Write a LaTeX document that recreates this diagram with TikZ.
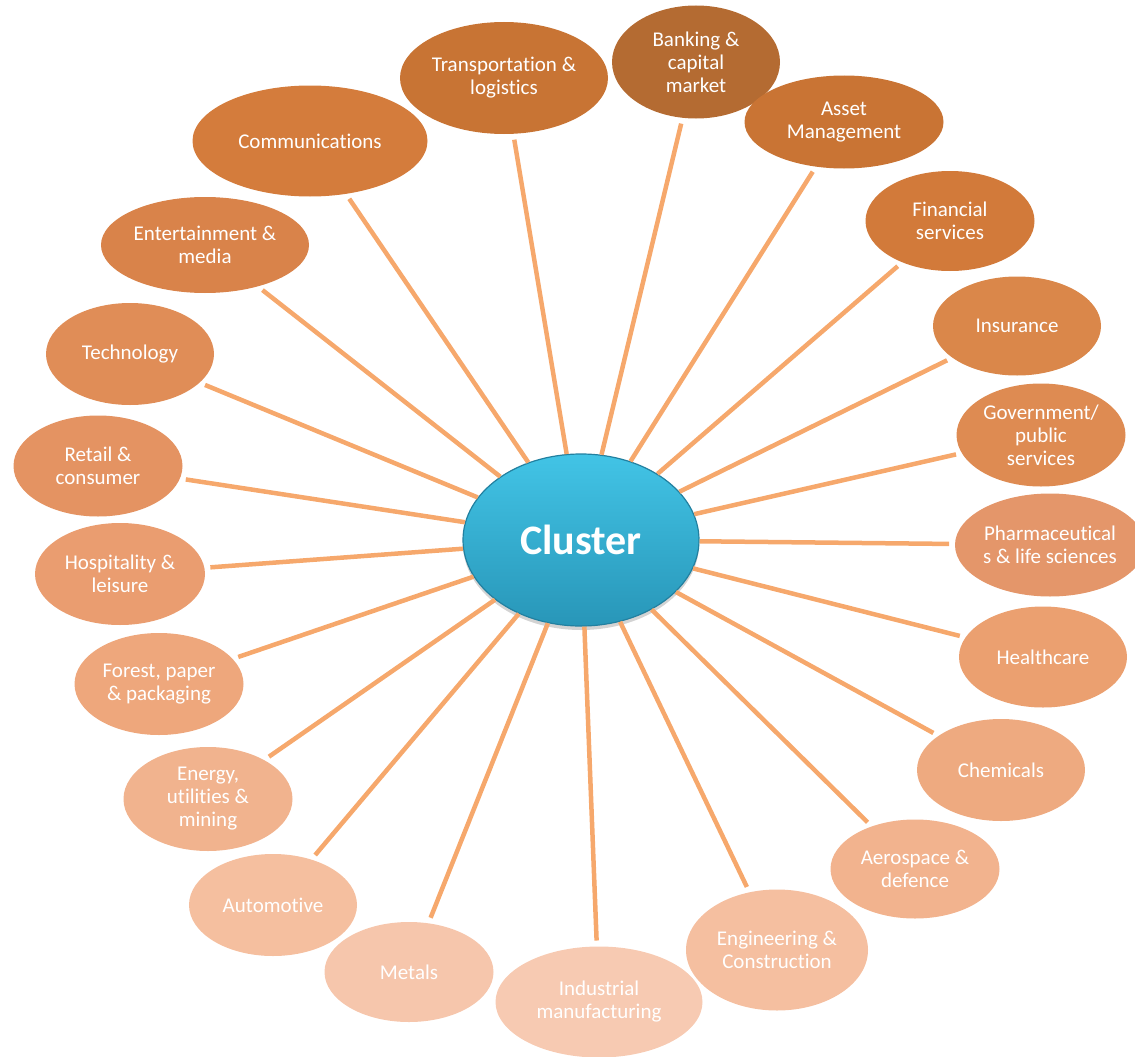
\documentclass[tikz,border=0pt]{standalone}
\usepackage{fontspec}
\setmainfont{Carlito}[Ligatures=NoCommon]
\usetikzlibrary{shapes.geometric,shadows}

\definecolor{spokecol}{RGB}{246,168,108}
\definecolor{clustertop}{RGB}{66,196,230}
\definecolor{clusterbottom}{RGB}{40,150,184}
\definecolor{clusterrim}{RGB}{34,128,160}

\tikzset{
    sector/.style={ellipse, inner sep=0pt, outer sep=0pt, fill=sectorfill,
        text=white, align=center, font=\fontsize{21}{23}\selectfont},
    hub/.style={ellipse, inner sep=0pt, minimum width=236pt, minimum height=172pt,
        top color=clustertop, bottom color=clusterbottom, draw=clusterrim, line width=1.2pt,
        drop shadow={opacity=0.35, shadow xshift=0pt, shadow yshift=-4pt},
        text=white, font=\fontsize{42}{48}\selectfont\bfseries},
    spoke/.style={draw=spokecol, line width=4.5pt, shorten >=6pt}
}

\begin{document}
\begin{tikzpicture}[x=1pt, y=-1pt]
\useasboundingbox (0,0) rectangle (1135,1057);
%\draw[gray] (0,0) grid[step=100] (1135,1057);
\node[hub] (cluster) at (581,540) {Cluster};
\foreach \nm/\px/\py/\w/\h/\col/\txt in {
    transport/504/78/208/112/C87434/{Transportation \&\\logistics},
    banking/696/62/168/113/B46B32/{Banking \&\\capital\\market},
    asset/844/122/199/93/C97434/{Asset\\Management},
    financial/950/221/169/100/D27A3A/{Financial\\services},
    insurance/1017/326/168/99/DA874A/{Insurance},
    government/1041/435/169/103/DE8B52/{Government/\\public\\services},
    pharma/1050/545/190/103/E4966A/{Pharmaceutical\\s \& life sciences},
    healthcare/1043/657/168/101/EBA070/{Healthcare},
    chemicals/1001/770/168/102/EEAA80/{Chemicals},
    aerospace/915/869/169/99/F2B38E/{Aerospace \&\\defence},
    engineering/777/950/182/121/F5BFA0/{Engineering \&\\Construction},
    industrial/599/1002/207/111/F7CAB2/{Industrial\\manufacturing},
    metals/409/972/169/100/F6C6AC/{Metals},
    automotive/273/905/168/102/F5BF9F/{Automotive},
    energy/208/799/169/104/F1B38E/{Energy,\\utilities \&\\mining},
    forest/159/684/169/102/EEA77C/{Forest, paper\\\& packaging},
    hospitality/120/574/170/102/EA9D70/{Hospitality \&\\leisure},
    retail/98/466/169/101/E49362/{Retail \&\\consumer},
    technology/130/354/168/102/E08D57/{Technology},
    entertainment/205/245/208/96/D9834A/{Entertainment \&\\media},
    communications/310/141/235/111/D47C3C/{Communications}}{
    \edef\setfill{\noexpand\definecolor{sectorfill}{HTML}{\col}}\setfill
    \node[sector, minimum width=\w pt, minimum height=\h pt] (\nm) at (\px,\py) {\txt};
    \draw[spoke] (cluster) -- (\nm);
}
\end{tikzpicture}
\end{document}
